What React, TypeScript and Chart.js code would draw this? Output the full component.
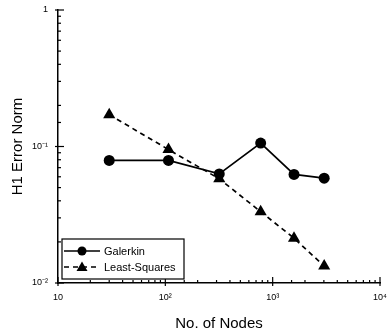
import React, { useEffect, useRef } from "react";
import { Chart, registerables } from "chart.js";

Chart.register(...registerables);

const nodes = [30, 107, 318, 773, 1581, 3020];
const galerkin = [0.079, 0.079, 0.063, 0.106, 0.0624, 0.0586];
const leastSquares = [0.171, 0.095, 0.058, 0.0333, 0.0213, 0.0133];
const xTickLabels: Record<number, string> = { 10: "10", 100: "10²", 1000: "10³", 10000: "10⁴" };
const yTickLabels: Record<string, string> = { "1": "1", "0.1": "10⁻¹", "0.01": "10⁻²" };
const seriesNames = ["Galerkin", "Least-Squares"];

const isMajor = (v: number) => Math.abs(Math.log10(v) - Math.round(Math.log10(v))) < 1e-6;

const inwardTicks = {
  id: "inwardTicks",
  afterDatasetsDraw(chart: any) {
    const { ctx, chartArea, scales } = chart;
    ctx.save();
    ctx.strokeStyle = "#000";
    ctx.lineWidth = 1.2;
    const xs = scales.x;
    xs.ticks.forEach((t: any) => {
      const px = xs.getPixelForValue(t.value);
      const major = isMajor(t.value);
      ctx.beginPath();
      ctx.moveTo(px, chartArea.bottom + (major ? 3 : 0));
      ctx.lineTo(px, chartArea.bottom - (major ? 6 : 3));
      ctx.stroke();
    });
    const ys = scales.y;
    ys.ticks.forEach((t: any) => {
      const py = ys.getPixelForValue(t.value);
      const major = isMajor(t.value);
      ctx.beginPath();
      ctx.moveTo(chartArea.left - (major ? 3 : 0), py);
      ctx.lineTo(chartArea.left + (major ? 6 : 3), py);
      ctx.stroke();
    });
    ctx.restore();
  },
};

const boxLegend = {
  id: "boxLegend",
  afterDraw(chart: any) {
    const { ctx, chartArea } = chart;
    const x0 = chartArea.left + 4;
    const y1 = chartArea.bottom - 4;
    const w = 122;
    const h = 40;
    const y0 = y1 - h;
    ctx.save();
    ctx.fillStyle = "#fff";
    ctx.fillRect(x0, y0, w, h);
    ctx.strokeStyle = "#000";
    ctx.lineWidth = 1.2;
    ctx.strokeRect(x0, y0, w, h);
    ctx.font = "11px 'Liberation Sans', Arial, sans-serif";
    ctx.textBaseline = "middle";
    ctx.fillStyle = "#000";
    seriesNames.forEach((name, i) => {
      const cy = y0 + 12 + i * 16;
      ctx.beginPath();
      ctx.lineWidth = 1.6;
      ctx.setLineDash(i === 0 ? [] : [5, 4]);
      ctx.moveTo(x0 + 2, cy);
      ctx.lineTo(x0 + 38, cy);
      ctx.stroke();
      ctx.setLineDash([]);
      ctx.beginPath();
      if (i === 0) {
        ctx.arc(x0 + 20, cy, 4.5, 0, Math.PI * 2);
      } else {
        ctx.moveTo(x0 + 20, cy - 5.5);
        ctx.lineTo(x0 + 25.5, cy + 4);
        ctx.lineTo(x0 + 14.5, cy + 4);
        ctx.closePath();
      }
      ctx.fill();
      ctx.fillText(name, x0 + 42, cy + 0.5);
    });
    ctx.restore();
  },
};

export default function App() {
  const ref = useRef<HTMLCanvasElement>(null);
  useEffect(() => {
    if (!ref.current) return;
    const chart = new Chart(ref.current, {
      type: "line",
      data: {
        datasets: [
          {
            label: seriesNames[0],
            data: nodes.map((n, i) => ({ x: n, y: galerkin[i] })),
            borderColor: "#000",
            backgroundColor: "#000",
            borderWidth: 1.7,
            pointStyle: "circle",
            pointRadius: 5.5,
            pointBorderWidth: 0,
          },
          {
            label: seriesNames[1],
            data: nodes.map((n, i) => ({ x: n, y: leastSquares[i] })),
            borderColor: "#000",
            backgroundColor: "#000",
            borderWidth: 1.7,
            borderDash: [5, 4],
            pointStyle: "triangle",
            pointRadius: 7,
            pointBorderWidth: 0,
          },
        ],
      },
      options: {
        animation: false,
        responsive: false,
        maintainAspectRatio: false,
        layout: { padding: { top: 10, right: 10, left: 0, bottom: 0 } },
        plugins: { legend: { display: false }, tooltip: { enabled: false } },
        scales: {
          x: {
            type: "logarithmic",
            min: 10,
            max: 10000,
            afterFit: (s: any) => { s.height = 50; },
            grid: { display: false },
            border: { display: true, color: "#000", width: 1.5 },
            ticks: {
              autoSkip: false,
              maxRotation: 0,
              padding: 1,
              color: "#000",
              font: { size: 9, family: "'Liberation Sans', Arial, sans-serif" },
              callback: (v: any) => xTickLabels[Number(v)] ?? "",
            },
            title: {
              display: true,
              text: "No. of Nodes",
              color: "#000",
              font: { size: 15, family: "'Liberation Sans', Arial, sans-serif" },
              padding: { top: 6, bottom: 0 },
            },
          },
          y: {
            type: "logarithmic",
            min: 0.01,
            max: 1,
            afterFit: (s: any) => { s.width = 58; },
            grid: { display: false },
            border: { display: true, color: "#000", width: 1.5 },
            ticks: {
              autoSkip: false,
              padding: 2,
              color: "#000",
              font: { size: 9, family: "'Liberation Sans', Arial, sans-serif" },
              callback: (v: any) => yTickLabels[String(Number(v))] ?? "",
            },
            title: {
              display: true,
              text: "H1 Error Norm",
              color: "#000",
              font: { size: 15, family: "'Liberation Sans', Arial, sans-serif" },
              padding: { top: 9, bottom: 0 },
            },
          },
        },
      },
      plugins: [inwardTicks, boxLegend],
    });
    return () => chart.destroy();
  }, []);
  return (
    <div style={{ position: "fixed", left: 0, top: 0, width: 390, height: 333, background: "#fff" }}>
      <canvas ref={ref} width={390} height={333} />
    </div>
  );
}
